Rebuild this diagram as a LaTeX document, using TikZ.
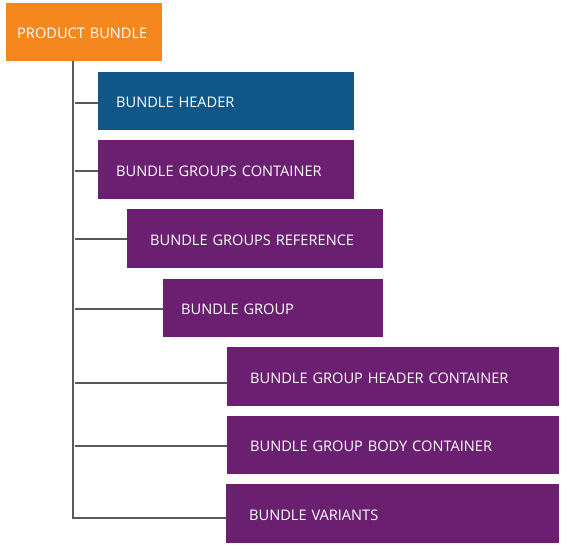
\documentclass[tikz,border=0pt]{standalone}
\usepackage{fontspec}
\setmainfont{Open Sans}
\usetikzlibrary{positioning}
\definecolor{bundleorange}{HTML}{F5871F}
\definecolor{bundleblue}{HTML}{0F5788}
\definecolor{bundlepurple}{HTML}{6A1F71}
\definecolor{treegray}{HTML}{5A5A5A}
\tikzset{
    part/.style={
           rectangle,
           fill=bundlepurple,
           text=white,
           anchor=north west,
           inner xsep=21pt,
           inner ysep=0pt,
           minimum height=58pt,
           text height=13pt,
           text depth=0pt,
           align=left,
           font=\fontsize{14.6}{16}\selectfont,
           },
    branch/.style={
           draw=treegray,
           line width=1.6pt,
           },
}
\begin{document}
\begin{tikzpicture}[x=1pt,y=1pt]
  \useasboundingbox (0,0) rectangle (567,-549);
  % root and its parts
  \node[part, fill=bundleorange, inner xsep=11pt, text width=134pt] (PB) at (6,-3) {PRODUCT BUNDLE};
  \node[part, fill=bundleblue, inner xsep=18pt, text width=220pt] (BH) at (98,-72) {BUNDLE HEADER};
  \node[part, inner xsep=18pt, text width=220pt, minimum height=59pt] (BGC) at (98,-140) {BUNDLE GROUPS CONTAINER};
  \node[part, inner xsep=23pt, text width=210pt, minimum height=59pt] (BGR) at (127,-209) {BUNDLE GROUPS REFERENCE};
  \node[part, inner xsep=18pt, text width=184pt] (BG) at (163,-279) {BUNDLE GROUP};
  \node[part, inner xsep=23pt, text width=286pt, minimum height=59pt] (BGHC) at (227,-347) {BUNDLE GROUP HEADER CONTAINER};
  \node[part, inner xsep=23pt, text width=286pt] (BGBC) at (227,-416) {BUNDLE GROUP BODY CONTAINER};
  \node[part, inner xsep=23pt, text width=287pt, minimum height=59pt] (BV) at (226,-484) {BUNDLE VARIANTS};
  % draw the tree
  \coordinate (trunk) at ([xshift=-11pt]PB.south);
  \draw[branch] (trunk) |- ([yshift=-4pt]BV.west);
  \foreach \n/\dy in {BH/-2,BGC/-1.5,BGR/0,BG/-1,BGHC/-6,BGBC/-1}
    \draw[branch] ([xshift=2pt,yshift=\dy pt]trunk |- \n.west) -- ([yshift=\dy pt]\n.west);
\end{tikzpicture}
\end{document}
